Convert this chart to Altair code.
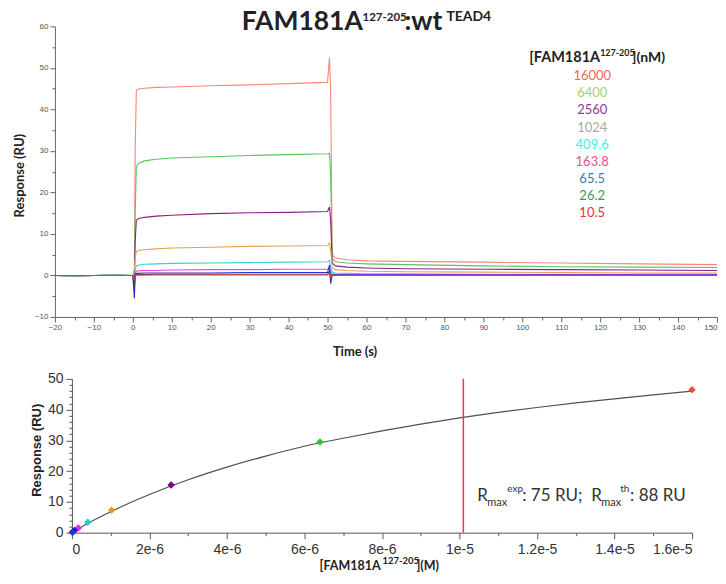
import altair as alt
import pandas as pd

# ---------------- data: sensorgram ----------------
time_s = [-20, -15, -10, -5, 0, 0.4, 0.6, 0.9, 1.5, 3, 6, 10, 20, 30, 40, 50,
          50.5, 50.8, 51.2, 52, 55, 60, 70, 90, 110, 130, 150]

series_names = ["16000", "6400", "2560", "1024", "409.6", "163.8", "65.5", "26.2", "10.5"]
resp_16000 = [0.0, -0.2, 0.0, 0.1, 0.0, 0.2, 30.0, 44.6, 44.9, 45.1, 45.3, 45.4, 45.7, 45.9, 46.2, 46.5,
              52.5, 44.0, 5.0, 4.2, 3.8, 3.5, 3.4, 3.2, 3.0, 2.8, 2.6]
resp_6400 = [0.0, -0.1, 0.0, 0.1, 0.0, 0.2, 15.0, 26.2, 27.0, 27.6, 28.0, 28.3, 28.6, 28.9, 29.1, 29.3,
             29.4, 24.0, 4.0, 3.3, 3.0, 2.8, 2.6, 2.3, 2.1, 2.0, 1.9]
resp_2560 = [0.0, -0.1, 0.0, 0.1, 0.0, -1.0, 8.0, 13.3, 13.7, 14.0, 14.3, 14.5, 14.9, 15.1, 15.2, 15.4,
             16.5, 13.0, 3.0, 2.3, 2.0, 1.8, 1.6, 1.5, 1.4, 1.3, 1.2]
resp_1024 = [0.0, -0.1, 0.0, 0.1, 0.0, 1.5, 4.0, 5.8, 6.0, 6.2, 6.4, 6.6, 6.8, 7.0, 7.1, 7.2,
             7.8, 6.0, 1.8, 1.4, 1.2, 1.0, 0.9, 0.8, 0.7, 0.6, 0.6]
resp_409 = [0.0, -0.1, 0.0, 0.1, 0.0, -1.5, 1.5, 2.3, 2.5, 2.7, 2.8, 2.9, 3.0, 3.1, 3.2, 3.3,
            3.6, 2.0, 0.8, 0.6, 0.5, 0.4, 0.4, 0.3, 0.3, 0.3, 0.3]
resp_163 = [0.0, 0.0, 0.0, 0.0, 0.0, -2.0, 0.6, 1.0, 1.1, 1.2, 1.2, 1.3, 1.4, 1.4, 1.5, 1.5,
            1.8, 0.8, 0.3, 0.3, 0.2, 0.2, 0.2, 0.2, 0.2, 0.2, 0.2]
resp_65 = [0.0, 0.0, 0.0, 0.0, 0.0, -5.5, 0.3, 0.5, 0.5, 0.6, 0.6, 0.6, 0.6, 0.7, 0.7, 0.7,
           2.5, -2.0, 0.2, 0.1, 0.1, 0.1, 0.1, 0.1, 0.1, 0.1, 0.1]
resp_26 = [0.0, 0.0, 0.0, 0.0, 0.0, -3.0, 0.1, 0.2, 0.2, 0.2, 0.3, 0.3, 0.3, 0.3, 0.3, 0.3,
           1.0, -1.0, 0.1, 0.1, 0.0, 0.0, 0.0, 0.0, 0.0, 0.0, 0.0]
resp_10 = [0.0, 0.0, 0.0, 0.0, 0.0, -1.0, 0.0, 0.1, 0.1, 0.1, 0.1, 0.1, 0.1, 0.1, 0.1, 0.1,
           0.5, -0.5, 0.0, 0.0, 0.0, 0.0, 0.0, 0.0, 0.0, 0.0, 0.0]
all_resp = [resp_16000, resp_6400, resp_2560, resp_1024, resp_409, resp_163, resp_65, resp_26, resp_10]

curve_colors = ["#f4877a", "#5cc45c", "#8a1f8a", "#e2a54e", "#35d3d3", "#f03cf0", "#2430c8", "#404040", "#e03c3c"]
legend_colors = ["#f26b50", "#a8d26a", "#8a3a9a", "#a8a8a8", "#40eeee", "#e8508a", "#3a78b8", "#3a9a5a", "#e8303a"]

# ---------------- data: steady-state fit ----------------
conc_M = [1.6e-5, 6.4e-6, 2.56e-6, 1.024e-6, 4.096e-7, 1.638e-7, 6.55e-8, 2.62e-8, 1.05e-8]
req_RU = [46.5, 29.5, 15.5, 7.3, 3.4, 1.5, 0.7, 0.3, 0.1]
point_colors = ["#f04a3a", "#33c233", "#800080", "#e0a020", "#20c8d8", "#f020f0", "#1a1ae0", "#2020c0", "#3030c0"]

fit_conc = [0, 5e-7, 1e-6, 2e-6, 3e-6, 4e-6, 5e-6, 6e-6, 7e-6, 8e-6, 9e-6, 1e-5, 1.1e-5, 1.2e-5,
            1.3e-5, 1.4e-5, 1.5e-5, 1.6e-5]
fit_resp = [0, 3.6, 6.8, 12.4, 17.2, 21.3, 24.9, 28.1, 30.7, 33.1, 35.3, 37.3, 39.1, 40.7,
            42.2, 43.5, 44.8, 46.0]
kd_line_conc = [1.01e-5]
kd_line_lo = [0]
kd_line_hi = [50]

x_major_labels = ["0", "2e-6", "4e-6", "6e-6", "8e-6", "1e-5", "1.2e-5", "1.4e-5", "1.6e-5"]
y_bottom_ticks = [0, 2, 4, 6, 8, 10, 12, 14, 16, 18, 20, 22, 24, 26, 28, 30,
                  32, 34, 36, 38, 40, 42, 44, 46, 48, 50]

# ---------------- helpers ----------------
rows = []
for name, vals in zip(series_names, all_resp):
    for t, v in zip(time_s, vals):
        rows.append({"time": t, "resp": v, "series": name})
sens_df = pd.DataFrame(rows)


def txt(s, x, y, size, bold=False, color="#222222", font="Lato", align="left", baseline="alphabetic"):
    return alt.Chart(pd.DataFrame({"t": [s]})).mark_text(
        align=align, baseline=baseline, font=font, fontSize=size,
        fontWeight="bold" if bold else "normal", color=color
    ).encode(x=alt.value(x), y=alt.value(y), text="t:N")


def anchor(x, y, baseline):
    return alt.Chart(pd.DataFrame({"t": ["."]})).mark_text(
        align="left", baseline=baseline, fontSize=1, opacity=0
    ).encode(x=alt.value(x), y=alt.value(y), text="t:N")


AX = "#666666"

# ---------------- top panel ----------------
W1, H1 = 663, 291
lines = alt.Chart(sens_df).mark_line(strokeWidth=1.1, clip=True).encode(
    x=alt.X("time:Q", scale=alt.Scale(domain=[-20, 150], nice=False, zero=False),
            axis=alt.Axis(values=list(range(-20, 151, 5)), grid=False,
                          labelExpr="datum.value % 10 === 0 ? datum.label : ''",
                          labelAlign={"condition": {"test": "datum.value === 150", "value": "right"}, "value": "center"},
                          tickSize={"condition": {"test": "datum.value % 10 === 0", "value": 5}, "value": 3},
                          labelFont="Liberation Sans", labelFontSize=8, labelColor="#555555",
                          labelPadding=2, domainColor=AX, tickColor=AX,
                          title="Time (s)", titleFont="Lato", titleFontSize=13, titleFontWeight="bold",
                          titleColor="#222222", titleX=300, titleY=35, titleBaseline="middle",
                          titleAlign="center")),
    y=alt.Y("resp:Q", scale=alt.Scale(domain=[-10, 60], nice=False, zero=False),
            axis=alt.Axis(values=list(range(-10, 61, 5)), grid=False,
                          labelExpr="datum.value % 10 === 0 ? datum.label : ''",
                          tickSize={"condition": {"test": "datum.value % 10 === 0", "value": 5}, "value": 3},
                          labelFont="Liberation Sans", labelFontSize=8, labelColor="#555555",
                          labelPadding=2, domainColor=AX, tickColor=AX, labelOverlap=False,
                          title="Response (RU)", titleFont="Lato", titleFontSize=13,
                          titleFontWeight="bold", titleColor="#222222", titleX=-35, titleY=149,
                          titleAngle=-90, titleBaseline="middle", titleAlign="center")),
    color=alt.Color("series:N", scale=alt.Scale(domain=series_names, range=curve_colors), legend=None),
    detail="series:N",
)

legend_df = pd.DataFrame({"lab": series_names})
legend_txt = alt.Chart(legend_df).mark_text(align="center", baseline="middle", font="Lato", fontSize=13).encode(
    x=alt.value(538),
    y=alt.Y("lab:N", sort=series_names, scale=alt.Scale(range=[50, 187], padding=0), axis=None),
    text="lab:N",
    color=alt.Color("lab:N", scale=alt.Scale(domain=series_names, range=legend_colors), legend=None),
)

top = alt.layer(
    lines, legend_txt,
    txt("FAM181A", 187, 4, 26.5, bold=True),
    txt("127-205", 308, -5, 11.5, bold=True),
    txt(":wt", 350, 4, 26.5, bold=True),
    txt("TEAD4", 392, -5, 14, bold=True),
    txt("[FAM181A", 475, 36, 14.5, bold=True),
    txt("127-205", 546, 30, 9, bold=True),
    txt("](nM)", 578, 36, 14, bold=True),
    anchor(-47, -18, "top"),
    anchor(0, 340, "bottom"),
).resolve_scale(y="independent", color="independent").properties(width=W1, height=H1)

# ---------------- bottom panel ----------------
W2, H2 = 638, 154
X0 = 17  # plot x-origin of the lower panel, relative to the upper one
pts_df = pd.DataFrame({"conc": conc_M, "resp": req_RU, "lab": series_names})
fit_df = pd.DataFrame({"conc": fit_conc, "resp": fit_resp})
kd_df = pd.DataFrame({"conc": kd_line_conc, "resp": kd_line_lo, "resp_hi": kd_line_hi})

x_label_expr = ""
for i, lab in enumerate(x_major_labels):
    x_label_expr += f"round(datum.value*1e6) === {2 * i} ? '{lab}' : "
x_label_expr += "''"

xb = alt.X("conc:Q", scale=alt.Scale(domain=[0, 1.6e-5], nice=False, zero=False, range=[X0, W2]),
           axis=alt.Axis(values=[i * 1e-6 for i in range(0, 17)], grid=False, labelExpr=x_label_expr,
                         tickSize={"condition": {"test": "round(datum.value*1e6) % 2 === 0", "value": 6}, "value": 3},
                         labelFont="Liberation Sans", labelFontSize=14, labelColor="#333333",
                         labelPadding=4, domainColor="#555555", tickColor="#555555", title=None,
                         labelOverlap=False))
yb = alt.Y("resp:Q", scale=alt.Scale(domain=[0, 50], nice=False, zero=False),
           axis=alt.Axis(values=y_bottom_ticks, grid=False, offset=-X0,
                         labelExpr="datum.value % 10 === 0 ? datum.label : ''",
                         tickSize={"condition": {"test": "datum.value % 10 === 0", "value": 6}, "value": 3},
                         labelFont="Liberation Sans", labelFontSize=14, labelColor="#333333",
                         labelPadding=3, domainColor="#555555", tickColor="#555555", labelOverlap=False,
                         title="Response (RU)", titleFont="Liberation Sans", titleFontSize=13,
                         titleFontWeight="bold", titleColor="#222222", titleX=-35, titleY=71,
                         titleAngle=-90, titleBaseline="middle", titleAlign="center"))

fit_line = alt.Chart(fit_df).mark_line(color="#505050", strokeWidth=1.2, interpolate="monotone").encode(x=xb, y=yb)
kd_rule = alt.Chart(kd_df).mark_rule(color="#e8384f", strokeWidth=1.5).encode(x=xb, y=yb, y2="resp_hi:Q")
pts = alt.Chart(pts_df).mark_point(shape="diamond", filled=True, size=55, opacity=1).encode(
    x=xb, y=yb,
    color=alt.Color("lab:N", scale=alt.Scale(domain=series_names, range=point_colors), legend=None),
)

bottom = alt.layer(
    fit_line, kd_rule, pts,
    txt("R", 423, 122, 17, color="#333333"),
    txt("max", 433, 127, 11, color="#333333"),
    txt("exp", 453, 113, 10, color="#333333"),
    txt(": 75 RU;", 468, 122, 17, color="#333333"),
    txt("R", 537, 122, 17, color="#333333"),
    txt("max", 547, 127, 11, color="#333333"),
    txt("th", 566, 113, 10, color="#333333"),
    txt(": 88 RU", 576, 122, 17, color="#333333"),
    txt("[FAM181A", 265, 191, 12.5, bold=True),
    txt("127-205", 328, 185, 9.5, bold=True),
    txt("](M)", 362, 191, 12.5, bold=True),
    anchor(-47, -13, "top"),
).properties(width=W2, height=H2)

chart = alt.vconcat(top, bottom, spacing=0).properties(padding=0).configure_view(stroke=None)

chart.save("out.html", embed_options={"renderer": "svg", "actions": False})
